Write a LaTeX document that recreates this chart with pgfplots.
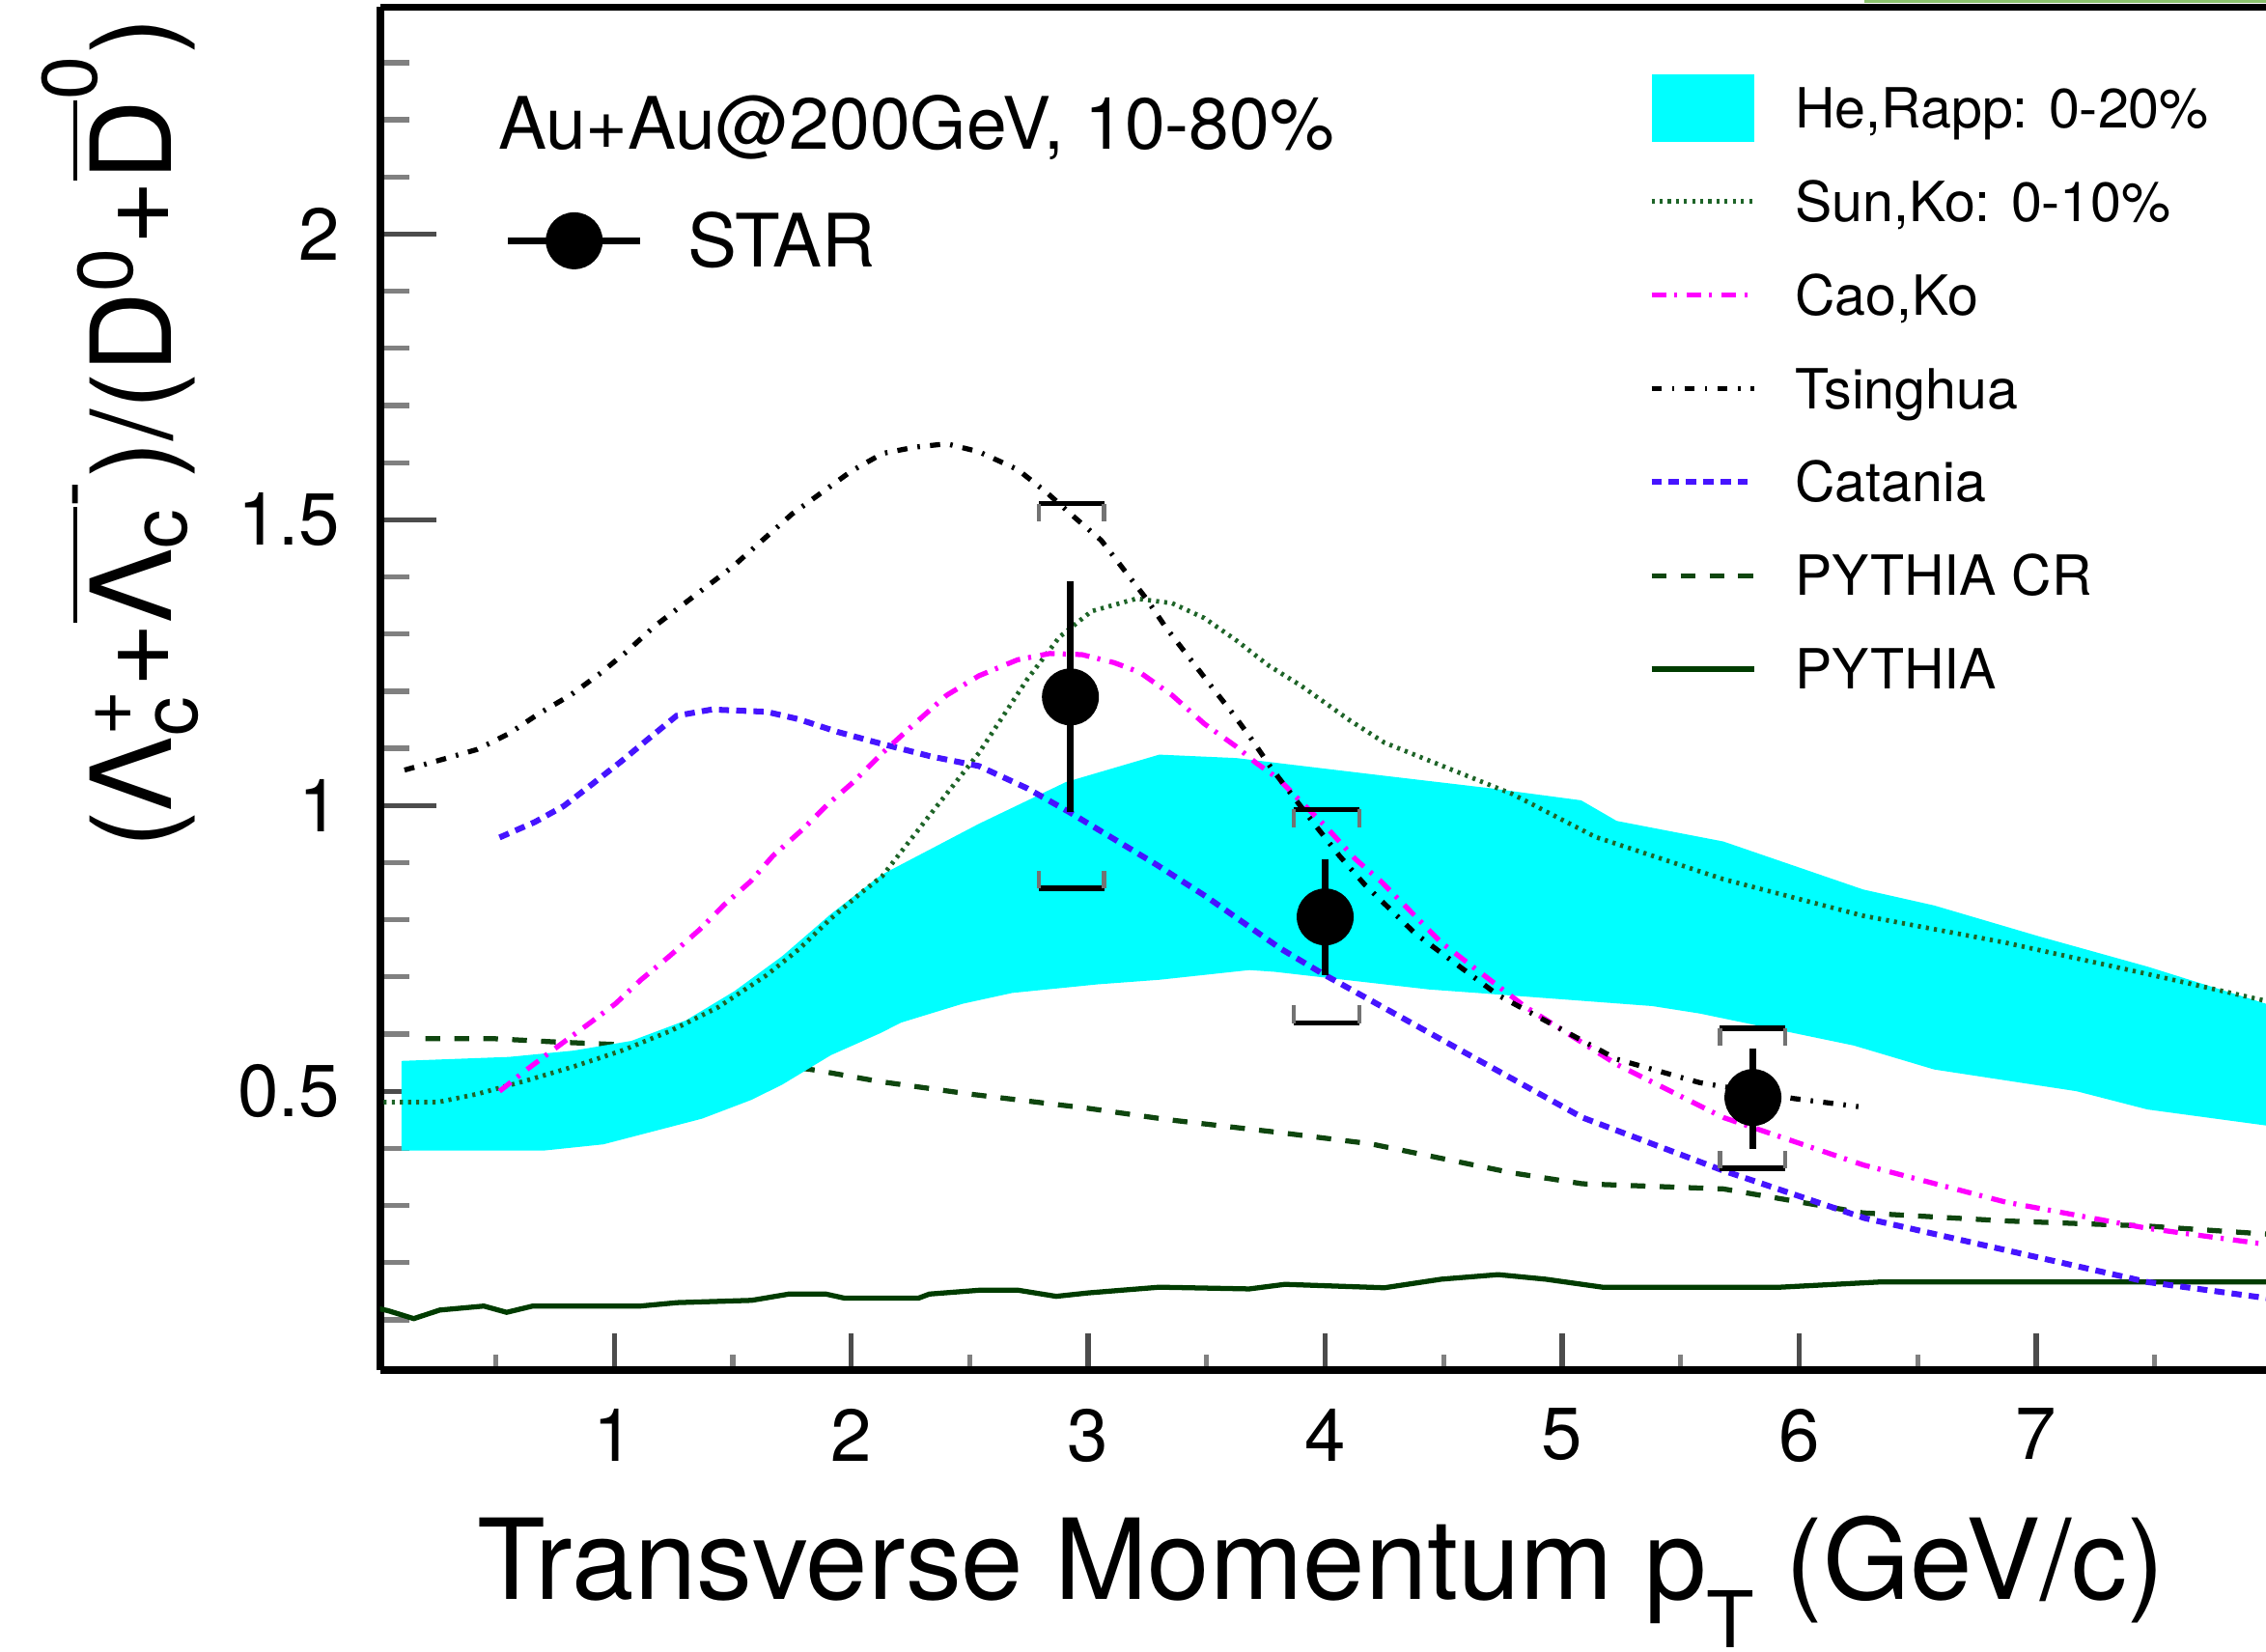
\documentclass[border=0pt]{standalone}
\usepackage{fontspec}
\setmainfont{TeX Gyre Heros}
\usepackage{amsmath}
\usepackage{pgfplots}
\pgfplotsset{compat=1.18}

\definecolor{rapp}{RGB}{0,255,255}
\definecolor{sunko}{RGB}{30,100,40}
\definecolor{caoko}{RGB}{255,0,255}
\definecolor{catania}{RGB}{70,20,255}
\definecolor{pycr}{RGB}{15,70,15}
\definecolor{py}{RGB}{0,60,0}
\definecolor{topgreen}{RGB}{140,195,110}

\pgfplotsset{
  mylinelegend/.style={legend image code/.code={\path[draw=none,fill=none] (0mm,-2.32mm) rectangle (7.1mm,2.32mm); \draw[##1] (0mm,0mm) -- (7.1mm,0mm);}},
  myarealegend/.style={legend image code/.code={\fill[##1, draw=none] (0mm,-2.32mm) rectangle (7.1mm,2.32mm);}},
  sunkostyle/.style={sunko, line width=0.9pt, dash pattern=on 0.6pt off 1pt},
  caokostyle/.style={caoko, line width=1pt, dash pattern=on 2.85pt off 1.6pt on 0.6pt off 1.85pt},
  tsingstyle/.style={black, line width=1pt, dash pattern=on 2pt off 2pt on 0.5pt off 2pt},
  catstyle/.style={catania, line width=1.15pt, dash pattern=on 2pt off 1.4pt},
  pycrstyle/.style={pycr, line width=1pt, dash pattern=on 2.9pt off 2.8pt},
  pystyle/.style={py, line width=1pt},
}

\begin{document}
\begin{tikzpicture}
\begin{axis}[
  at={(0,0)}, anchor=south west,
  scale only axis, width=13.05cm, height=9.43cm,
  xmin=0.012, xmax=7.97, ymin=0.012, ymax=2.397,
  axis x line*=box, axis y line*=left,
  axis line style={-, line width=1.5pt, black},
  xtick={1,2,3,4,5,6,7},
  minor xtick={0.5,1.5,2.5,3.5,4.5,5.5,6.5,7.5},
  ytick={0.5,1,1.5,2},
  minor ytick={0.1,0.2,0.3,0.4,0.6,0.7,0.8,0.9,1.1,1.2,1.3,1.4,1.6,1.7,1.8,1.9,2.1,2.2,2.3},
  tick align=inside, xtick pos=left, ytick pos=left,
  xtick style={/pgfplots/major tick length=2.54mm, /pgfplots/minor tick length=1.1mm},
  ytick style={/pgfplots/major tick length=3.9mm, /pgfplots/minor tick length=2.0mm},
  major tick style={line width=1pt, black!70},
  minor tick style={line width=1pt, black!50},
  /pgf/number format/assume math mode=true,
  ticklabel style={font=\fontsize{14.5}{17}\selectfont},
  xticklabel style={anchor=north, yshift=-2.6mm, inner sep=0pt},
  yticklabel style={anchor=east, xshift=-2.7mm, inner sep=0pt},
  xlabel={Transverse Momentum p\raisebox{-9.4pt}{\fontsize{15.4}{15.4}\selectfont T} (GeV/c)},
  xlabel style={at={(axis description cs:0.4989,-0.1686)}, anchor=base, inner sep=0pt, font=\fontsize{22}{26}\selectfont},
  ylabel={(Λ$^{\text{+}}_{\text{c}}$+$\overline{\text{Λ}_{\text{c}}}^{\text{-}}$)/(D$^{\text{0}}$+$\overline{\text{D}}^{\text{0}}$)},
  ylabel style={at={(axis description cs:-0.1107,0.9936)}, anchor=base east, inner sep=0pt, font=\fontsize{22}{26}\selectfont},
  legend style={at={(axis description cs:0.6726,0.9506)}, anchor=north west, draw=none, fill=none,
    inner sep=0pt, outer sep=0pt, row sep=1.83mm, column sep=2.65mm,
    font=\fontsize{10.9}{13}\selectfont,
    nodes={inner sep=0pt, text height=2.75mm, text depth=0pt}},
  legend cell align=left,
]

% PYTHIA CR (under the band)
\addplot[pycrstyle, forget plot] coordinates {
(0.203,0.592) (0.489,0.592) (0.760,0.586) (0.991,0.582) (1.4,0.562) (1.847,0.537) (2.118,0.517) (2.5,0.495) (3.0,0.470) (3.34,0.450) (3.8,0.428) (4.19,0.408) (4.79,0.357) (5.085,0.338) (5.68,0.329) (6.27,0.287) (6.87,0.273) (7.47,0.264) (7.97,0.250) (8.1,0.248)};

% He,Rapp band
\addplot[fill=rapp, draw=none, forget plot] coordinates {
(0.102,0.553) (0.557,0.560) (0.828,0.571) (1.072,0.588) (1.303,0.624) (1.507,0.675) (1.711,0.737) (1.914,0.810) (2.125,0.878) (2.539,0.968) (2.906,1.041) (3.30,1.089) (3.625,1.083) (4.25,1.052) (4.70,1.030) (5.08,1.009) (5.23,0.973) (5.68,0.937) (6.27,0.853) (6.57,0.825) (7.02,0.770) (7.47,0.718) (7.97,0.653) (8.1,0.640)
(8.1,0.433) (7.97,0.440) (7.47,0.468) (7.17,0.500) (6.57,0.538) (6.23,0.580) (5.58,0.636) (5.38,0.649) (4.64,0.672) (4.44,0.678) (3.785,0.709) (3.68,0.712) (3.30,0.695) (3.04,0.687) (2.68,0.672) (2.47,0.653) (2.21,0.620) (2.125,0.602) (1.914,0.563) (1.711,0.512) (1.58,0.485) (1.371,0.452) (1.26,0.440) (0.954,0.407) (0.70,0.396) (0.102,0.396)} -- cycle;

% PYTHIA
\addplot[pystyle, forget plot] coordinates {
(0.0,0.120) (0.045,0.116) (0.154,0.102) (0.264,0.117) (0.45,0.124) (0.546,0.113) (0.656,0.124) (1.11,0.124) (1.266,0.130) (1.58,0.134) (1.737,0.145) (1.893,0.145) (1.97,0.138) (2.285,0.138) (2.33,0.145) (2.55,0.152) (2.70,0.152) (2.865,0.141) (3.0,0.147) (3.30,0.157) (3.68,0.154) (3.83,0.162) (4.25,0.156) (4.49,0.171) (4.73,0.179) (4.93,0.171) (5.17,0.157) (5.92,0.157) (6.335,0.166) (8.1,0.166)};

% Sun,Ko
\addplot[sunkostyle, forget plot] coordinates {
(0.027,0.481) (0.258,0.481) (0.421,0.495) (0.624,0.518) (0.828,0.543) (1.032,0.571) (1.235,0.605) (1.439,0.647) (1.643,0.703) (1.778,0.748) (1.914,0.802) (2.050,0.850) (2.130,0.876) (2.335,0.985) (2.539,1.092) (2.743,1.221) (2.879,1.295) (3.014,1.340) (3.204,1.362) (3.354,1.354) (3.490,1.328) (3.625,1.289) (3.761,1.245) (3.897,1.210) (4.10,1.150) (4.25,1.110) (4.49,1.070) (4.79,1.020) (5.14,0.945) (5.68,0.871) (6.27,0.807) (6.87,0.760) (7.47,0.705) (7.97,0.658) (8.1,0.645)};

% Catania
\addplot[catstyle, forget plot] coordinates {
(0.516,0.944) (0.665,0.971) (0.787,0.999) (0.909,1.038) (1.032,1.078) (1.154,1.120) (1.263,1.157) (1.412,1.168) (1.643,1.164) (1.778,1.151) (1.941,1.129) (2.091,1.112) (2.335,1.086) (2.539,1.069) (2.743,1.030) (2.922,0.988) (3.286,0.897) (3.50,0.840) (3.81,0.750) (4.00,0.703) (4.44,0.602) (4.64,0.556) (5.085,0.454) (5.68,0.361) (6.275,0.278) (6.87,0.222) (7.47,0.166) (7.97,0.138) (8.1,0.132)};

% Cao,Ko
\addplot[caokostyle, forget plot] coordinates {
(0.516,0.500) (0.638,0.540) (0.774,0.582) (0.896,0.619) (1.005,0.653) (1.113,0.695) (1.235,0.737) (1.358,0.782) (1.466,0.827) (1.575,0.867) (1.670,0.912) (1.792,0.957) (1.901,1.002) (2.009,1.041) (2.132,1.092) (2.267,1.143) (2.403,1.193) (2.539,1.227) (2.702,1.255) (2.838,1.266) (2.974,1.264) (3.109,1.250) (3.218,1.233) (3.354,1.193) (3.490,1.143) (3.625,1.103) (3.707,1.075) (3.802,1.047) (3.897,1.007) (4.005,0.962) (4.128,0.906) (4.236,0.867) (4.49,0.760) (4.84,0.649) (5.23,0.547) (5.68,0.454) (6.27,0.371) (6.87,0.306) (7.47,0.260) (7.97,0.232) (8.1,0.225)};

% Tsinghua
\addplot[tsingstyle, forget plot] coordinates {
(0.115,1.062) (0.278,1.081) (0.421,1.098) (0.557,1.126) (0.679,1.160) (0.815,1.193) (0.937,1.230) (1.052,1.269) (1.168,1.313) (1.50,1.418) (1.75,1.510) (2.00,1.585) (2.132,1.616) (2.267,1.627) (2.403,1.633) (2.539,1.619) (2.702,1.588) (2.824,1.548) (2.946,1.503) (3.055,1.464) (3.150,1.413) (3.245,1.362) (3.327,1.312) (3.422,1.261) (3.517,1.210) (3.612,1.160) (3.693,1.114) (3.775,1.064) (3.870,1.013) (3.965,0.962) (4.060,0.912) (4.168,0.861) (4.38,0.776) (4.73,0.668) (5.23,0.556) (5.58,0.515) (5.98,0.487) (6.25,0.473)};

% STAR systematic brackets: horizontal bars
\addplot[black, line width=1pt, forget plot, unbounded coords=jump] coordinates {
(2.793,1.528) (3.067,1.528) (nan,nan)
(2.793,0.855) (3.067,0.855) (nan,nan)
(3.866,0.993) (4.145,0.993) (nan,nan)
(3.866,0.619) (4.145,0.619) (nan,nan)
(5.666,0.610) (5.941,0.610) (nan,nan)
(5.666,0.365) (5.941,0.365)};
% bracket legs
\addplot[black!55, line width=0.8pt, forget plot, unbounded coords=jump] coordinates {
(2.793,1.528) (2.793,1.497) (nan,nan) (3.067,1.528) (3.067,1.497) (nan,nan)
(2.793,0.855) (2.793,0.886) (nan,nan) (3.067,0.855) (3.067,0.886) (nan,nan)
(3.866,0.993) (3.866,0.962) (nan,nan) (4.145,0.993) (4.145,0.962) (nan,nan)
(3.866,0.619) (3.866,0.650) (nan,nan) (4.145,0.619) (4.145,0.650) (nan,nan)
(5.666,0.610) (5.666,0.579) (nan,nan) (5.941,0.610) (5.941,0.579) (nan,nan)
(5.666,0.365) (5.666,0.396) (nan,nan) (5.941,0.365) (5.941,0.396)};

% STAR data with statistical errors
\addplot[black, only marks, mark=*, mark size=1.9mm, forget plot,
  error bars/.cd, y dir=both, y explicit, error mark=none,
  error bar style={line width=1.25pt, black}]
  coordinates {
  (2.925,1.190) += (0,0.203) -= (0,0.202)
  (4.000,0.805) += (0,0.101) -= (0,0.102)
  (5.805,0.489) += (0,0.085) -= (0,0.090)
  };

\addlegendimage{myarealegend, fill=rapp}
\addlegendentry{He,Rapp: 0-20\%}
\addlegendimage{mylinelegend, sunkostyle}
\addlegendentry{Sun,Ko: 0-10\%}
\addlegendimage{mylinelegend, caokostyle}
\addlegendentry{Cao,Ko}
\addlegendimage{mylinelegend, tsingstyle}
\addlegendentry{Tsinghua}
\addlegendimage{mylinelegend, catstyle}
\addlegendentry{Catania}
\addlegendimage{mylinelegend, pycrstyle}
\addlegendentry{PYTHIA CR}
\addlegendimage{mylinelegend, pystyle}
\addlegendentry{PYTHIA}

\node[anchor=base west, inner sep=0pt, font=\fontsize{14.25}{17}\selectfont] at (rel axis cs:0.0621,0.8955) {Au+Au@200GeV, 10-80\%};
\end{axis}

% second, hidden axis holding the STAR legend
\begin{axis}[
  at={(0,0)}, anchor=south west,
  scale only axis, width=13.05cm, height=9.43cm,
  xmin=0.012, xmax=7.97, ymin=0.012, ymax=2.397,
  hide axis,
  legend style={at={(axis description cs:0.0663,0.8495)}, anchor=north west, draw=none, fill=none,
    inner sep=0pt, outer sep=0pt, column sep=3.1mm,
    font=\fontsize{14.5}{17}\selectfont,
    nodes={inner sep=0pt, text height=3.67mm, text depth=0pt}},
  legend cell align=left,
]
\addlegendimage{legend image code/.code={\draw[black, line width=1.2pt] (0mm,0mm) -- (9.14mm,0mm); \fill[black] (4.57mm,0mm) circle (1.9mm);}}
\addlegendentry{STAR}
\end{axis}

\fill[topgreen] (10.27cm,9.458cm) rectangle (13.05cm,9.48cm);

\pgfresetboundingbox
\useasboundingbox (-2.63cm,-1.95cm) rectangle (13.05cm,9.48cm);
\end{tikzpicture}
\end{document}
